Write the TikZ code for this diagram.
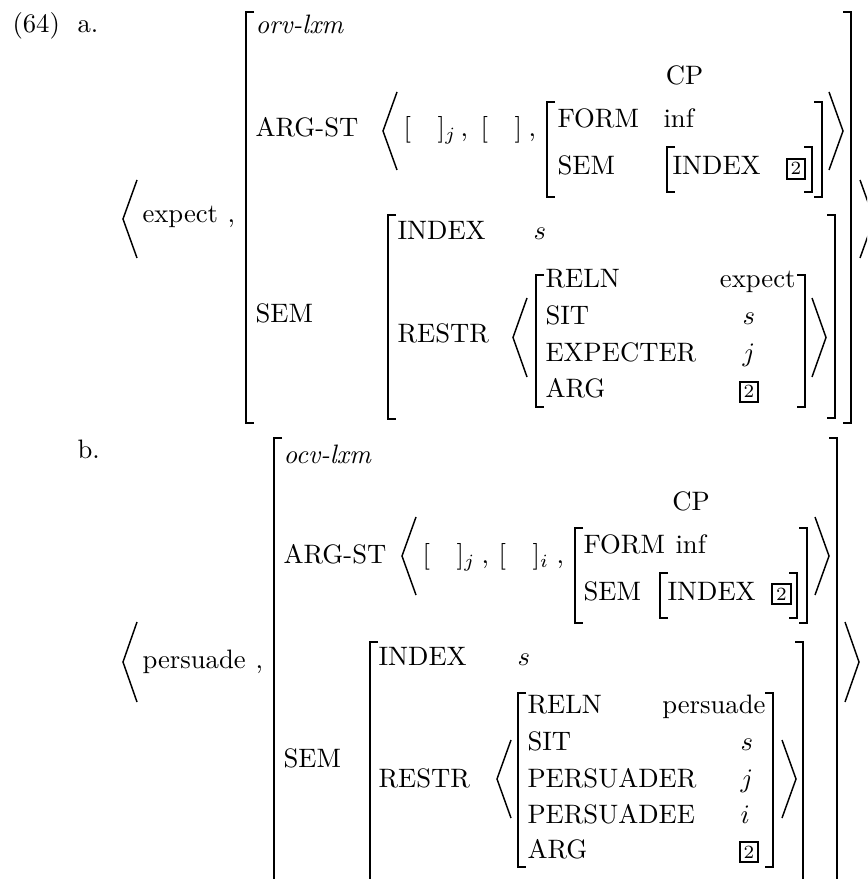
\documentclass[tikz,border=0pt]{standalone}
\usetikzlibrary{positioning}

\begin{document}
\begin{tikzpicture}[
  x=0.375pt, y=-0.375pt,
  lbl/.style={anchor=base west, inner sep=0pt},
  val/.style={anchor=base east, inner sep=0pt},
  tag/.style={
    draw, line width=0.7pt, anchor=base,
    font=\scriptsize, inner sep=1.5pt
  },
  brk/.style={line width=0.75pt},
  ang/.style={line width=0.55pt}
]
\useasboundingbox (0,0) rectangle (867,879);
\clip (0,0) rectangle (867,879);

%% ── Example number ──────────────────────────────────────────────────
\node[lbl] (num) at (12,33) {(64)};
\node[lbl] (aa)  at (77,33) {a.};
\node[lbl] (bb)  at (77,458) {b.};

%% ── (a) expect ──────────────────────────────────────────────────────
\node[lbl] (a-word)  at (142,223) {expect};
\node[lbl] (a-comma) at (227,223) {,};
\node[lbl] (a-type)  at (255,34)  {\textit{orv-lxm}};
\node[lbl] (a-argst) at (255,137) {ARG-ST};
\node[lbl] (a-np1)   at (403,137) {$[\quad]_j$};
\node[lbl] (a-c1)    at (460,137) {,};
\node[lbl] (a-np2)   at (480,137) {$[\quad]$};
\node[lbl] (a-c2)    at (528,137) {,};
\node[anchor=base, inner sep=0pt] (a-cp) at (684.5,85) {CP};
\node[lbl] (a-form)  at (557,128) {FORM};
\node[lbl] (a-inf)   at (663,128) {inf};
\node[lbl] (a-csem)  at (557,175) {SEM};
\node[lbl] (a-cidx)  at (672,175) {INDEX};
\node[tag] (a-tag1)  at (796,175) {2};
\node[lbl] (a-sem)   at (255,323) {SEM};
\node[lbl] (a-index) at (397,240) {INDEX};
\node[lbl] (a-s)     at (533,240) {$s$};
\node[lbl] (a-restr) at (397,343) {RESTR};
\node[lbl] (a-reln)  at (545,288) {RELN};
\node[val] (a-relv)  at (796,288) {expect};
\node[lbl] (a-sit)   at (545,325) {SIT};
\node[lbl] (a-sitv)  at (742,325) {$s$};
\node[lbl] (a-exp)   at (545,362) {EXPECTER};
\node[lbl] (a-expv)  at (742,362) {$j$};
\node[lbl] (a-arg)   at (545,398) {ARG};
\node[tag] (a-tag2)  at (749,398) {2};

%% ── (b) persuade ────────────────────────────────────────────────────
\node[lbl] (b-word)  at (142,668) {persuade};
\node[lbl] (b-comma) at (255,668) {,};
\node[lbl] (b-type)  at (283,463) {\textit{ocv-lxm}};
\node[lbl] (b-argst) at (283,563) {ARG-ST};
\node[lbl] (b-np1)   at (422,563) {$[\quad]_j$};
\node[lbl] (b-c1)    at (481,563) {,};
\node[lbl] (b-np2)   at (498,563) {$[\quad]_i$};
\node[lbl] (b-c2)    at (556,563) {,};
\node[anchor=base, inner sep=0pt] (b-cp) at (691,510) {CP};
\node[lbl] (b-form)  at (583,553) {FORM};
\node[lbl] (b-inf)   at (675,553) {inf};
\node[lbl] (b-csem)  at (583,600) {SEM};
\node[lbl] (b-cidx)  at (667,600) {INDEX};
\node[tag] (b-tag1)  at (781.5,600) {2};
\node[lbl] (b-sem)   at (283,767) {SEM};
\node[lbl] (b-index) at (378,665) {INDEX};
\node[lbl] (b-s)     at (517,665) {$s$};
\node[lbl] (b-restr) at (378,787) {RESTR};
\node[lbl] (b-reln)  at (527,713) {RELN};
\node[val] (b-relv)  at (766,713) {persuade};
\node[lbl] (b-sit)   at (527,750) {SIT};
\node[lbl] (b-sitv)  at (740,750) {$s$};
\node[lbl] (b-pr)    at (527,787) {PERSUADER};
\node[lbl] (b-prv)   at (740,787) {$j$};
\node[lbl] (b-pe)    at (527,823) {PERSUADEE};
\node[lbl] (b-pev)   at (740,823) {$i$};
\node[lbl] (b-arg)   at (527,858) {ARG};
\node[tag] (b-tag2)  at (749,858) {2};

%% ── Square brackets: x / top / bottom ──────────────────────────────
\foreach \bx/\ya/\yb in {246/12/423, 547/102/197, 667/147/192,
                         388/215/419, 536/275/407,
                         274/438/900, 575/528/623, 660/573/618,
                         370/642/900, 518/693/867}
  \draw[brk] (\bx+8,\ya) -- (\bx,\ya) -- (\bx,\yb) -- (\bx+8,\yb);
\foreach \bx/\ya/\yb in {851/12/423, 822/102/197, 812/147/192,
                         835/215/418, 805/275/407,
                         837/438/900, 807/528/623, 797/573/618,
                         803/642/900, 773/693/867}
  \draw[brk] (\bx-8,\ya) -- (\bx,\ya) -- (\bx,\yb) -- (\bx-8,\yb);

%% ── Angle brackets: x / top / bottom ───────────────────────────────
\foreach \bx/\ya/\yb in {123/180/258, 383/92/170, 513/298/377,
                         123/622/702, 402/517/595, 497/740/818}
  \draw[ang] (\bx+14,\ya) -- (\bx,{(\ya+\yb)/2}) -- (\bx+14,\yb);
\foreach \bx/\ya/\yb in {829/92/170, 812/298/377, 860/180/258,
                         815/517/595, 782/740/818, 845/622/702}
  \draw[ang] (\bx,\ya) -- (\bx+14,{(\ya+\yb)/2}) -- (\bx,\yb);

\end{tikzpicture}
\end{document}
